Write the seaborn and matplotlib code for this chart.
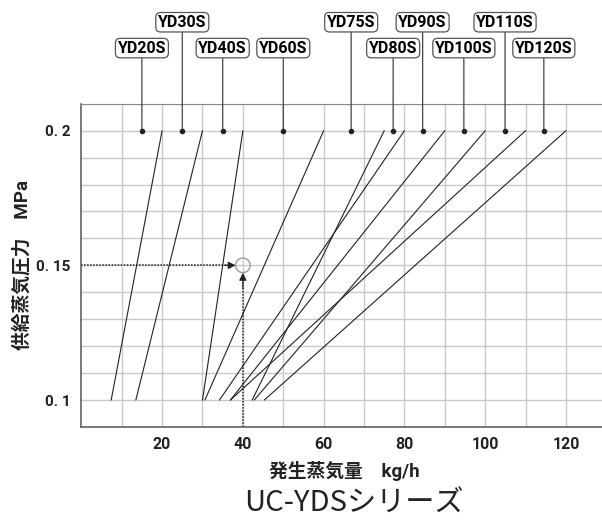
import matplotlib
matplotlib.use("Agg")
import matplotlib.pyplot as plt
import matplotlib.transforms as mtransforms
from matplotlib.patches import Ellipse
import numpy as np
import pandas as pd
import seaborn as sns

# ── Data ───────────────────────────────────────────────────────────────────
MODELS    = ["YD20S", "YD30S", "YD40S", "YD60S", "YD75S",
             "YD80S", "YD90S", "YD100S", "YD110S", "YD120S"]
P_LOW     = 0.1
P_HIGH    = 0.2
FLOW_LOW  = [7.4, 13.5, 30.0, 30.6, 42.3, 34.2, 36.9, 42.8, 36.9, 45.3]   # kg/h at 0.1 MPa
FLOW_HIGH = [20, 30, 40, 60, 75, 80, 90, 100, 110, 120]                   # kg/h at 0.2 MPa
LABEL_X   = [15, 25, 35, 50, 66.8, 77.2, 84.5, 94.7, 104.9, 114.5]        # dot / tag position
LABEL_ROW = [0, 1, 0, 0, 1, 0, 1, 0, 1, 0]                                # 1 = upper row

X_TICKS   = [20, 40, 60, 80, 100, 120]
Y_TICKS   = [0.1, 0.15, 0.2]
Y_TICKLAB = ["0. 1", "0. 15", "0. 2"]
EX_FLOW   = 40      # worked example: 0.15 MPa -> 40 kg/h
EX_PRESS  = 0.15

XLABEL = "発生蒸気量　kg/h"
YLABEL = "供給蒸気圧力　MPa"
TITLE  = "UC-YDSシリーズ"

# ── Style ──────────────────────────────────────────────────────────────────
sns.set_style("white")
FONT = ["Roboto", "Noto Sans CJK JP", "DejaVu Sans"]
plt.rcParams["font.family"] = FONT
INK  = "#222222"
GRID = "#c9c9c9"

df = pd.DataFrame({
    "model":    MODELS * 2,
    "flow":     FLOW_LOW + FLOW_HIGH,
    "pressure": [P_LOW] * len(MODELS) + [P_HIGH] * len(MODELS),
})

fig = plt.figure(figsize=(6.02, 5.20), dpi=100)
ax = fig.add_axes([81.3 / 602, 1 - 427 / 520, 1 - 81.3 / 602, 323.3 / 520])

sns.lineplot(data=df, x="flow", y="pressure", units="model", estimator=None,
             color=INK, lw=0.8, ax=ax, legend=False)

ax.set_xlim(0, 128.9)
ax.set_ylim(0.09, 0.21)

# grid every 10 kg/h and 0.01 MPa
ax.set_xticks(X_TICKS)
ax.set_xticks(np.arange(10, 130, 10), minor=True)
ax.set_yticks(Y_TICKS)
ax.set_yticklabels(Y_TICKLAB)
ax.set_yticks(np.arange(0.09, 0.215, 0.01), minor=True)
ax.grid(True, which="both", color=GRID, lw=1.0)
ax.set_axisbelow(True)
ax.tick_params(which="both", length=0)
ax.tick_params(axis="x", pad=7, labelsize=11.5, labelcolor=INK)
ax.tick_params(axis="y", pad=8, labelsize=11, labelcolor=INK)
for lab in ax.get_xticklabels() + ax.get_yticklabels():
    lab.set_fontweight("bold")

for side in ["left", "bottom"]:
    ax.spines[side].set_color("#555555")
    ax.spines[side].set_linewidth(1.1)
ax.spines["top"].set_color("#8a8a8a")
ax.spines["right"].set_visible(False)

ax.set_xlabel(XLABEL, fontsize=13.5, fontweight="bold", color=INK)
ax.set_ylabel(YLABEL, fontsize=13.5, fontweight="bold", color=INK)
ax.xaxis.set_label_coords(0.506, -0.105)
ax.yaxis.set_label_coords(-0.095, 0.5)

# ── Model tags with leader lines ───────────────────────────────────────────
trans = mtransforms.blended_transform_factory(ax.transData, ax.transAxes)
ROW_Y = {0: 1.172, 1: 1.252}
ax.scatter(LABEL_X, [P_HIGH] * len(LABEL_X), s=9, color=INK, zorder=4)
for name, lx, row in zip(MODELS, LABEL_X, LABEL_ROW):
    ax.annotate(name, xy=(lx, P_HIGH), xytext=(lx, ROW_Y[row]),
                textcoords=trans, ha="center", va="center",
                fontsize=11.5, fontweight="bold", color="black",
                bbox=dict(boxstyle="round,pad=0.14,rounding_size=0.3",
                          fc="white", ec="#555555", lw=0.9),
                arrowprops=dict(arrowstyle="-", color="#444444", lw=0.9,
                                shrinkA=0, shrinkB=0),
                annotation_clip=False)

# ── Worked example: dotted guides to the circled point ─────────────────────
ax.plot([0, EX_FLOW - 2.4], [EX_PRESS, EX_PRESS], ls=(0, (1, 1)), color=INK, lw=1.1)
ax.plot([EX_FLOW, EX_FLOW], [0.09, EX_PRESS - 0.0035], ls=(0, (1, 1)), color=INK, lw=1.1)
ax.annotate("", xy=(EX_FLOW - 1.8, EX_PRESS), xytext=(EX_FLOW - 4.5, EX_PRESS),
            arrowprops=dict(arrowstyle="-|>", color=INK, lw=0.8, mutation_scale=11,
                            shrinkA=0, shrinkB=0))
ax.annotate("", xy=(EX_FLOW, EX_PRESS - 0.0028), xytext=(EX_FLOW, EX_PRESS - 0.0085),
            arrowprops=dict(arrowstyle="-|>", color=INK, lw=0.8, mutation_scale=11,
                            shrinkA=0, shrinkB=0))
ax.add_patch(Ellipse((EX_FLOW, EX_PRESS), width=7.3 * 2 / 4.04,
                     height=7.3 * 2 / 2693, fill=False, ec="#9a9a9a", lw=1.0, zorder=5))

fig.text(354 / 602, 1 - 504 / 520, TITLE, ha="center", va="center",
         fontsize=21, color="#222222", family=["Noto Sans CJK JP", "DejaVu Sans"])

fig.savefig("out.png", dpi=100)
plt.close(fig)
